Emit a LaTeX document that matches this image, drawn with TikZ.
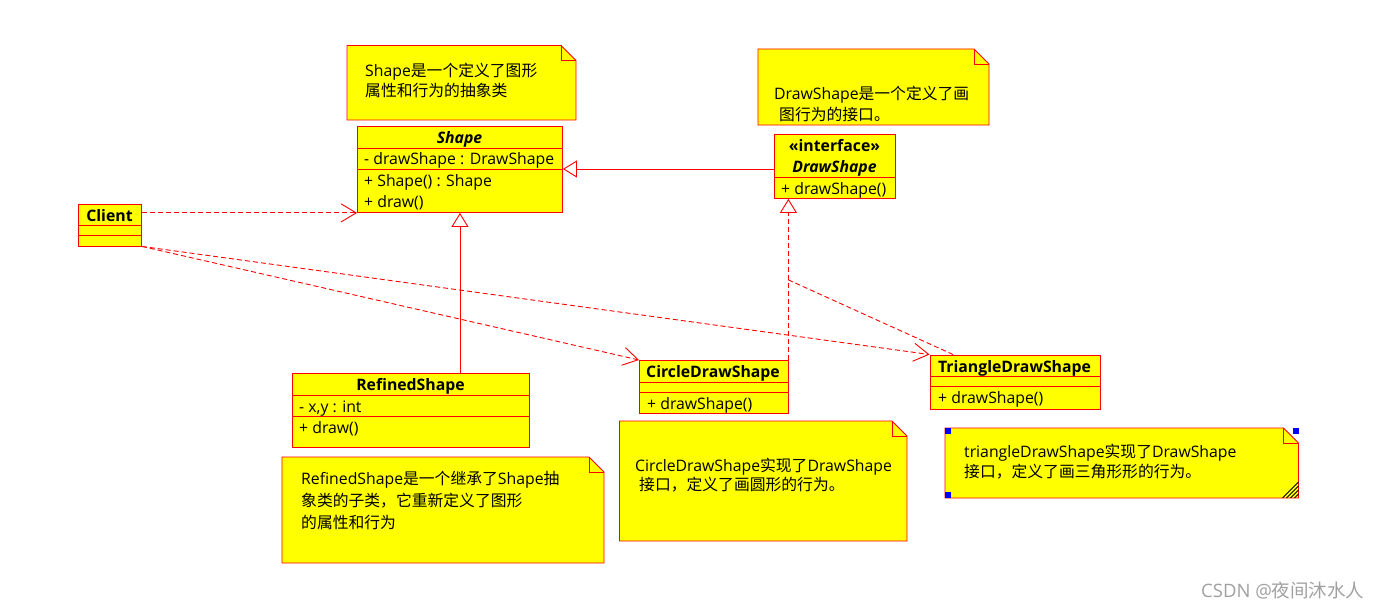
\documentclass[tikz,border=0pt]{standalone}
\usepackage{fontspec}
\setmainfont{Open Sans}
\newfontfamily\cjk{Noto Sans CJK SC}
\usetikzlibrary{arrows.meta}
\newcommand\zh[1]{{\cjk #1}}
\newcommand\fsz{\fontsize{15.8pt}{20pt}\selectfont}
\definecolor{uy}{RGB}{255,255,0}
\definecolor{ur}{RGB}{255,0,0}
\definecolor{wmc}{RGB}{160,160,160}
\newcommand\notebox[4]{%
  \draw[notest] (#1,#2) -- (#3-15,#2) -- (#3,#2+15) -- (#3,#4) -- (#1,#4) -- cycle;
  \draw[notest, fill=none] (#3-15,#2) -- (#3-15,#2+15) -- (#3,#2+15);}
\begin{document}
\begin{tikzpicture}[x=1pt,y=-1pt,
  cls/.style={draw=ur, fill=uy, line width=0.9pt, inner sep=0pt, anchor=north west},
  sep/.style={draw=ur, line width=0.9pt},
  notest/.style={draw=ur, fill=uy, line width=0.9pt, line join=miter},
  txt/.style={inner sep=0pt, anchor=base west, font=\fsz},
  ctr/.style={inner sep=0pt, anchor=base, font=\fsz\bfseries},
  conn/.style={draw=ur, line width=0.9pt},
  dep/.style={conn, dash pattern=on 5pt off 3pt},
  openarr/.style={-{Straight Barb[length=15pt,width=18pt]}},
  gen/.style={-{Triangle[length=14pt,width=17pt,fill=white]}},
]
\useasboundingbox (0,0) rectangle (1388,610);

% ---------- Shape note and class ----------
\notebox{347}{45.5}{576}{120}
\node[txt] (n1a) at (365,76) {Shape\zh{是一个定义了图形}};
\node[txt] (n1b) at (365,96) {\zh{属性和行为的抽象类}};

\node[cls, minimum width=205pt, minimum height=86pt] (shape) at (357,126) {};
\draw[sep] (357,148) -- (562,148);
\draw[sep] (357,169) -- (562,169);
\node[ctr, font=\fsz\bfseries\itshape] (shapet) at (459.5,143) {Shape};
\node[txt] (sa) at (364,164) {- drawShape : DrawShape};
\node[txt] (so1) at (364,186) {+ Shape() : Shape};
\node[txt] (so2) at (364,207) {+ draw()};

% ---------- DrawShape note and interface ----------
\notebox{758}{49}{989}{125}
\node[txt] (n2a) at (774,99) {DrawShape\zh{是一个定义了画}};
\node[txt] (n2b) at (779,120) {\zh{图行为的接口。}};

\node[cls, minimum width=121pt, minimum height=64pt] (ds) at (774,134) {};
\draw[sep] (774,177) -- (895,177);
\node[ctr] (dst1) at (834.5,151) {«interface»};
\node[ctr, font=\fsz\bfseries\itshape] (dst2) at (834.5,172) {DrawShape};
\node[txt] (dso) at (781,194) {+ drawShape()};

% ---------- Client ----------
\node[cls, minimum width=63pt, minimum height=41.5pt] (client) at (78,204) {};
\draw[sep] (78,225.5) -- (141,225.5);
\draw[sep] (78,235.5) -- (141,235.5);
\node[ctr] (clientt) at (109.5,221) {Client};

% ---------- RefinedShape ----------
\node[cls, minimum width=237pt, minimum height=73.5pt] (refined) at (292,373) {};
\draw[sep] (292,395) -- (529,395);
\draw[sep] (292,416.5) -- (529,416.5);
\node[ctr] (reft) at (410.5,390) {RefinedShape};
\node[txt] (refa) at (299,412) {- x,y : int};
\node[txt] (refo) at (299,433) {+ draw()};

\notebox{282}{457}{604}{563}
\node[txt] (n3a) at (301,484) {RefinedShape\zh{是一个继承了}Shape\zh{抽}};
\node[txt] (n3b) at (301,506) {\zh{象类的子类，它重新定义了图形}};
\node[txt] (n3c) at (301,528) {\zh{的属性和行为}};

% ---------- CircleDrawShape ----------
\node[cls, minimum width=148.5pt, minimum height=53pt] (circ) at (639,360) {};
\draw[sep] (639,382) -- (787.5,382);
\draw[sep] (639,392.5) -- (787.5,392.5);
\node[ctr] (circt) at (713,377) {CircleDrawShape};
\node[txt] (circo) at (647,409) {+ drawShape()};

\notebox{619.5}{421}{907}{541}
\node[txt] (n4a) at (635,471) {CircleDrawShape\zh{实现了}DrawShape};
\node[txt] (n4b) at (639,490) {\zh{接口，定义了画圆形的行为。}};

% ---------- TriangleDrawShape ----------
\node[cls, minimum width=170.5pt, minimum height=54pt] (tri) at (929.5,354.5) {};
\draw[sep] (929.5,376) -- (1100,376);
\draw[sep] (929.5,386.5) -- (1100,386.5);
\node[ctr] (trit) at (1014.5,372) {TriangleDrawShape};
\node[txt] (trio) at (938,403) {+ drawShape()};

\notebox{945}{428}{1298.5}{498}
\node[txt] (n5a) at (964,457) {triangleDrawShape\zh{实现了}DrawShape};
\node[txt] (n5b) at (964,477) {\zh{接口，定义了画三角形形的行为。}};
\foreach \i in {0,4,8,12} {
  \draw[black, line width=0.9pt] (1282.5+\i,498) -- (1298.5,482+\i);
}
\fill[blue] (945,428) rectangle (951,434);
\fill[blue] (1293,428) rectangle (1299,434);
\fill[blue] (945,492) rectangle (951,498);

% ---------- connectors ----------
\coordinate (shattr) at (357,169);
\draw[conn, gen] (ds.west |- shattr) -- (shape.east |- shattr);
\draw[dep, openarr] (client.east |- shape.south) -- (shape.south west);
\draw[conn, gen] (shape.south |- refined.north) -- (shape.south);
\draw[dep, gen] (circ.north east) -- (circ.north east |- ds.south);
\coordinate (tjoin) at (787.5,279.5);
\coordinate (tritop) at (953,354.5);
\draw[dep] (tritop) -- (tjoin);
\draw[dep, openarr] (client.south east) -- (circ.north west);
\draw[dep, openarr] (client.south east) -- (tri.north west);

% ---------- watermark ----------
\node[inner sep=0pt, anchor=base west, font=\fontsize{18.5pt}{18.5pt}\selectfont, text=wmc] (wm) at (1201,597) {CSDN @\zh{夜间沐水人}};
\end{tikzpicture}
\end{document}
